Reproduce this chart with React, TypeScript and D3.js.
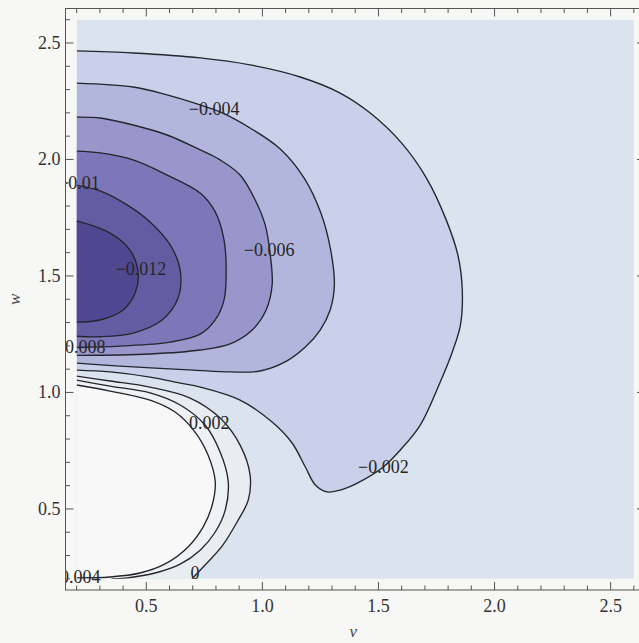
import React from "react";
import * as d3 from "d3";

type Pt = [number, number];

const WIDTH = 639;
const HEIGHT = 643;

// Field range (v, w) and the padded frame range around it
const plotV: [number, number] = [0.2, 2.6];
const plotW: [number, number] = [0.2, 2.6];
const frameV: [number, number] = [0.152, 2.648];
const frameW: [number, number] = [0.152, 2.648];

const majorTicks = [0.5, 1.0, 1.5, 2.0, 2.5];
const majorTickLabels = ["0.5", "1.0", "1.5", "2.0", "2.5"];
const minorTicks = [
  0.2, 0.3, 0.4, 0.6, 0.7, 0.8, 0.9, 1.1, 1.2, 1.3, 1.4, 1.6, 1.7, 1.8, 1.9,
  2.1, 2.2, 2.3, 2.4, 2.6,
];

// Contour lines, as (v, w) points, one list per level
const contourM012: Pt[] = [
  [0.2, 1.736], [0.344, 1.684], [0.43, 1.611], [0.465, 1.513], [0.452, 1.427],
  [0.4, 1.354], [0.301, 1.311], [0.2, 1.302],
];
const contourM010: Pt[] = [
  [0.2, 1.89], [0.301, 1.865], [0.417, 1.805], [0.516, 1.732], [0.603, 1.633],
  [0.646, 1.526], [0.637, 1.405], [0.568, 1.311], [0.443, 1.255], [0.301, 1.239],
  [0.2, 1.241],
];
const contourM008: Pt[] = [
  [0.2, 2.036], [0.301, 2.028], [0.443, 1.998], [0.59, 1.933], [0.732, 1.856],
  [0.797, 1.775], [0.835, 1.654], [0.844, 1.526], [0.835, 1.397], [0.797, 1.311],
  [0.732, 1.25], [0.603, 1.216], [0.387, 1.199], [0.2, 1.193],
];
const contourM006: Pt[] = [
  [0.2, 2.182], [0.301, 2.178], [0.443, 2.148], [0.59, 2.105], [0.732, 2.041],
  [0.818, 1.998], [0.904, 1.933], [0.969, 1.826], [1.012, 1.719], [1.034, 1.59],
  [1.042, 1.461], [1.016, 1.354], [0.956, 1.268], [0.861, 1.208], [0.732, 1.182],
  [0.516, 1.165], [0.2, 1.159],
];
const contourM004: Pt[] = [
  [0.2, 2.328], [0.443, 2.311], [0.59, 2.277], [0.732, 2.234], [0.818, 2.204],
  [0.947, 2.135], [1.077, 2.045], [1.18, 1.92], [1.252, 1.77], [1.294, 1.612],
  [1.31, 1.461], [1.292, 1.354], [1.249, 1.268], [1.185, 1.195], [1.098, 1.131],
  [0.99, 1.092], [0.861, 1.088], [0.702, 1.096], [0.387, 1.113], [0.2, 1.126],
];
const contourM002: Pt[] = [
  [0.2, 2.466], [0.443, 2.457], [0.732, 2.436], [0.947, 2.406], [1.163, 2.354],
  [1.335, 2.285], [1.47, 2.195], [1.6, 2.07], [1.708, 1.918], [1.79, 1.745],
  [1.842, 1.59], [1.861, 1.44], [1.853, 1.289], [1.818, 1.174], [1.766, 1.045],
  [1.68, 0.86], [1.594, 0.753], [1.521, 0.68], [1.409, 0.611], [1.335, 0.581],
  [1.279, 0.573], [1.228, 0.603], [1.185, 0.68], [1.128, 0.783], [1.042, 0.873],
  [0.904, 0.967], [0.732, 1.023], [0.646, 1.04], [0.516, 1.066], [0.344, 1.088],
  [0.2, 1.096],
];
const contourZero: Pt[] = [
  [0.2, 1.07], [0.344, 1.049], [0.516, 1.023], [0.689, 0.976], [0.818, 0.89],
  [0.904, 0.774], [0.947, 0.646], [0.939, 0.538], [0.891, 0.444], [0.827, 0.341],
  [0.753, 0.259], [0.697, 0.2],
];
const contourP002: Pt[] = [
  [0.2, 1.053], [0.344, 1.027], [0.516, 0.998], [0.646, 0.946], [0.753, 0.86],
  [0.818, 0.744], [0.853, 0.616], [0.84, 0.495], [0.797, 0.401], [0.732, 0.323],
  [0.646, 0.263], [0.538, 0.225], [0.409, 0.203], [0.35, 0.2],
];
const contourP004: Pt[] = [
  [0.2, 1.032], [0.344, 1.006], [0.516, 0.967], [0.624, 0.916], [0.71, 0.83],
  [0.766, 0.731], [0.797, 0.616], [0.784, 0.517], [0.745, 0.423], [0.68, 0.337],
  [0.581, 0.264], [0.473, 0.225], [0.344, 0.208], [0.2, 0.204],
];

// Shading of the band that lies beyond each line (toward the extreme)
const outerBandColor = "#dbe3ee";
const contourLayers: { pts: Pt[]; fill: string }[] = [
  { pts: contourM002, fill: "#cad0e9" },
  { pts: contourM004, fill: "#b2b5dc" },
  { pts: contourM006, fill: "#9897cb" },
  { pts: contourM008, fill: "#7b77b8" },
  { pts: contourM010, fill: "#625da3" },
  { pts: contourM012, fill: "#4f478f" },
  { pts: contourZero, fill: "#e8edf2" },
  { pts: contourP002, fill: "#eff2f4" },
  { pts: contourP004, fill: "#f7f8f7" },
];

// Contour labels: text and anchor point (v, w)
const labelTexts = ["−0.004", "−0.006", "−0.012", "−0.01", "−0.008", "0.004", "0.002", "0", "−0.002"];
const labelV = [0.792, 1.029, 0.477, 0.21, 0.215, 0.215, 0.771, 0.71, 1.521];
const labelW = [2.217, 1.611, 1.533, 1.899, 1.195, 0.208, 0.869, 0.225, 0.68];

const serif = "'Liberation Serif', 'Times New Roman', Times, serif";

export default function App() {
  const x = d3.scaleLinear().domain(frameV).range([65.5, 645]);
  const y = d3.scaleLinear().domain(frameW).range([590, 8.5]);

  const line = d3
    .line<Pt>()
    .x((d) => x(d[0]))
    .y((d) => y(d[1]))
    .curve(d3.curveCatmullRom.alpha(0.5));

  const corner = `L${x(plotV[0])},${y(plotW[0])}`;
  const areaPath = (pts: Pt[]) => {
    const last = pts[pts.length - 1];
    const needsCorner = last[1] <= plotW[0] + 1e-6 && last[0] > plotV[0] + 1e-6;
    return (line(pts) || "") + (needsCorner ? corner : "") + "Z";
  };

  const px0 = x(plotV[0]);
  const px1 = x(plotV[1]);
  const py0 = y(plotW[1]);
  const py1 = y(plotW[0]);

  const fx0 = x(frameV[0]);
  const fx1 = x(frameV[1]);
  const fy0 = y(frameW[1]);
  const fy1 = y(frameW[0]);

  const majorLen = 8;
  const minorLen = 4.5;
  const tickColor = "#555";

  return (
    <svg
      width={WIDTH}
      height={HEIGHT}
      style={{ position: "absolute", left: 0, top: 0, display: "block" }}
    >
      <defs>
        <clipPath id="plotClip">
          <rect x={px0} y={py0} width={px1 - px0} height={py1 - py0} />
        </clipPath>
        <clipPath id="frameClip">
          <rect x={fx0} y={fy0} width={fx1 - fx0} height={fy1 - fy0} />
        </clipPath>
      </defs>
      <rect x={0} y={0} width={WIDTH} height={HEIGHT} fill="#f7f7f5" />

      <g clipPath="url(#plotClip)">
        <rect x={px0} y={py0} width={px1 - px0} height={py1 - py0} fill={outerBandColor} />
        {contourLayers.map((c, i) => (
          <path key={`f${i}`} d={areaPath(c.pts)} fill={c.fill} stroke="none" />
        ))}
        {contourLayers.map((c, i) => (
          <path
            key={`l${i}`}
            d={line(c.pts) || ""}
            fill="none"
            stroke="#25252d"
            strokeWidth={1.35}
          />
        ))}
      </g>

      <g clipPath="url(#frameClip)" fontFamily={serif} fontSize={18} fill="#262626">
        {labelTexts.map((t, i) => (
          <text
            key={`cl${i}`}
            x={x(labelV[i])}
            y={y(labelW[i])}
            dy="0.35em"
            textAnchor="middle"
          >
            {t}
          </text>
        ))}
      </g>

      {/* frame */}
      <rect
        x={fx0}
        y={fy0}
        width={fx1 - fx0}
        height={fy1 - fy0}
        fill="none"
        stroke={tickColor}
        strokeWidth={1}
      />

      {/* ticks on all four sides, pointing inward */}
      <g stroke={tickColor} strokeWidth={1}>
        {majorTicks.concat(minorTicks).map((t, i) => {
          const len = i < majorTicks.length ? majorLen : minorLen;
          return (
            <g key={`t${i}`}>
              <line x1={x(t)} x2={x(t)} y1={fy1} y2={fy1 - len} />
              <line x1={x(t)} x2={x(t)} y1={fy0} y2={fy0 + len} />
              <line x1={fx0} x2={fx0 + len} y1={y(t)} y2={y(t)} />
              <line x1={fx1} x2={fx1 - len} y1={y(t)} y2={y(t)} />
            </g>
          );
        })}
      </g>

      <g fontFamily={serif} fontSize={18} fill="#333">
        {majorTicks.map((t, i) => (
          <text key={`bx${i}`} x={x(t)} y={fy1 + 22} textAnchor="middle">
            {majorTickLabels[i]}
          </text>
        ))}
        {majorTicks.map((t, i) => (
          <text key={`ly${i}`} x={fx0 - 5} y={y(t)} dy="0.33em" textAnchor="end">
            {majorTickLabels[i]}
          </text>
        ))}
      </g>

      <text
        x={(fx0 + fx1) / 2 - 2}
        y={637}
        textAnchor="middle"
        fontFamily={serif}
        fontStyle="italic"
        fontSize={17}
        fill="#444"
      >
        v
      </text>
      <text
        transform={`translate(20,${(fy0 + fy1) / 2}) rotate(-90)`}
        textAnchor="middle"
        fontFamily={serif}
        fontStyle="italic"
        fontSize={17}
        fill="#444"
      >
        w
      </text>
    </svg>
  );
}
